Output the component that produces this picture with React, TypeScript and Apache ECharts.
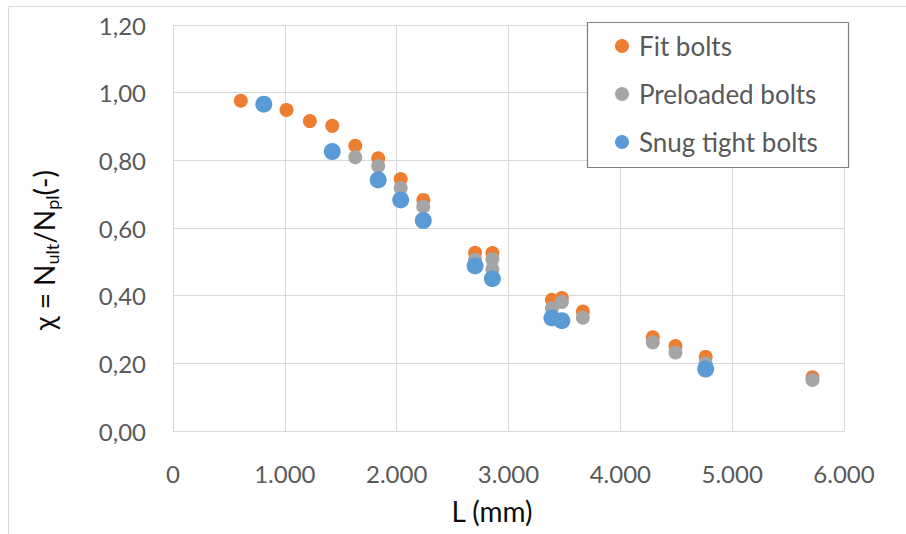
import React, { useEffect, useRef } from "react";
import * as echarts from "echarts";

// Bolt length L (mm) and reduction factor χ for the three bolt types
const fitL = [606, 1015, 1224, 1424, 1630, 1835, 2036, 2238, 2701, 2856, 3388, 3477, 3665, 4290, 4493, 4763, 5718];
const fitChi = [0.976, 0.949, 0.916, 0.902, 0.843, 0.806, 0.745, 0.683, 0.527, 0.526, 0.388, 0.393, 0.353, 0.277, 0.251, 0.219, 0.159];

const preL = [1630, 1835, 2036, 2238, 2701, 2856, 2856, 3388, 3477, 3665, 4290, 4493, 4763, 5718];
const preChi = [0.809, 0.783, 0.718, 0.663, 0.506, 0.508, 0.478, 0.363, 0.381, 0.335, 0.262, 0.232, 0.2, 0.151];

const snugL = [812, 1424, 1835, 2036, 2238, 2701, 2856, 3388, 3477, 4763];
const snugChi = [0.966, 0.826, 0.742, 0.683, 0.622, 0.488, 0.45, 0.334, 0.326, 0.183];

const seriesNames = ["Fit bolts", "Preloaded bolts", "Snug tight bolts"];
const xTitle = "L (mm)";

const FONT = "Lato, 'Open Sans', sans-serif";
const pairs = (xs: number[], ys: number[]) => xs.map((x, i) => [x, ys[i]]);

export default function App() {
  const ref = useRef<HTMLDivElement>(null);

  useEffect(() => {
    if (!ref.current) return;
    const chart = echarts.init(ref.current, null, { renderer: "svg" });
    chart.setOption({
      animation: false,
      backgroundColor: "#ffffff",
      textStyle: { fontFamily: FONT },
      grid: { left: 173, right: 62, top: 25, bottom: 103, containLabel: false },
      xAxis: {
        type: "value",
        min: 0,
        max: 6000,
        interval: 1000,
        axisLine: { show: true, lineStyle: { color: "#d9d9d9", width: 1 } },
        axisTick: { show: false },
        splitLine: { show: true, lineStyle: { color: "#d9d9d9", width: 1 } },
        axisLabel: {
          margin: 30,
          fontSize: 24,
          color: "#595959",
          fontFamily: FONT,
          formatter: (v: number) => (v === 0 ? "0" : `${Math.floor(v / 1000)}.${String(v % 1000).padStart(3, "0")}`),
        },
      },
      yAxis: {
        type: "value",
        min: 0,
        max: 1.2,
        interval: 0.2,
        axisLine: { show: true, lineStyle: { color: "#d9d9d9", width: 1 } },
        axisTick: { show: false },
        splitLine: { show: true, lineStyle: { color: "#d9d9d9", width: 1 } },
        axisLabel: {
          margin: 27,
          fontSize: 24,
          color: "#595959",
          fontFamily: FONT,
          formatter: (v: number) => v.toFixed(2).replace(".", ","),
        },
      },
      legend: {
        orient: "vertical",
        left: 615,
        top: 32,
        padding: 0,
        itemGap: 20,
        itemWidth: 14,
        itemHeight: 14,
        icon: "circle",
        z: 5,
        textStyle: {
          fontSize: 26,
          lineHeight: 28,
          color: "#595959",
          fontFamily: FONT,
          padding: [0, 0, 0, 5],
        },
        data: seriesNames,
      },
      graphic: [
        {
          type: "rect",
          silent: true,
          z: -10,
          shape: { x: 8.5, y: 6.5, width: 1000, height: 1000 },
          style: { fill: "none", stroke: "#d9d9d9", lineWidth: 1 },
        },
        {
          type: "rect",
          silent: true,
          z: 3,
          shape: { x: 587.5, y: 22.5, width: 261, height: 145 },
          style: { fill: "#ffffff", stroke: "#7f7f7f", lineWidth: 1.2 },
        },
        {
          type: "text",
          silent: true,
          x: 492,
          y: 511,
          style: {
            text: xTitle,
            align: "center",
            verticalAlign: "middle",
            fontSize: 28,
            fontFamily: FONT,
            fill: "#0d0d0d",
          },
        },
        {
          type: "text",
          silent: true,
          x: 44,
          y: 250,
          rotation: Math.PI / 2,
          style: {
            text: "{m|χ = N}{s|ult}{m|/N}{s|pl}{m|(-)}",
            align: "center",
            verticalAlign: "middle",
            fontFamily: FONT,
            fill: "#0d0d0d",
            rich: {
              m: { fontSize: 28, fontFamily: FONT, fill: "#0d0d0d" },
              s: { fontSize: 18, fontFamily: FONT, fill: "#0d0d0d", padding: [15, 0, 0, 0] },
            },
          },
        },
      ],
      series: [
        {
          name: seriesNames[0],
          type: "scatter",
          symbol: "circle",
          symbolSize: 14,
          itemStyle: { color: "#ED7D31", opacity: 1 },
          data: pairs(fitL, fitChi),
        },
        {
          name: seriesNames[1],
          type: "scatter",
          symbol: "circle",
          symbolSize: 14,
          itemStyle: { color: "#A5A5A5", opacity: 1 },
          data: pairs(preL, preChi),
        },
        {
          name: seriesNames[2],
          type: "scatter",
          symbol: "circle",
          symbolSize: 17,
          itemStyle: { color: "#5B9BD5", opacity: 1 },
          data: pairs(snugL, snugChi),
        },
      ],
    });
    return () => chart.dispose();
  }, []);

  return <div ref={ref} style={{ width: 906, height: 534, position: "absolute", left: 0, top: 0 }} />;
}
